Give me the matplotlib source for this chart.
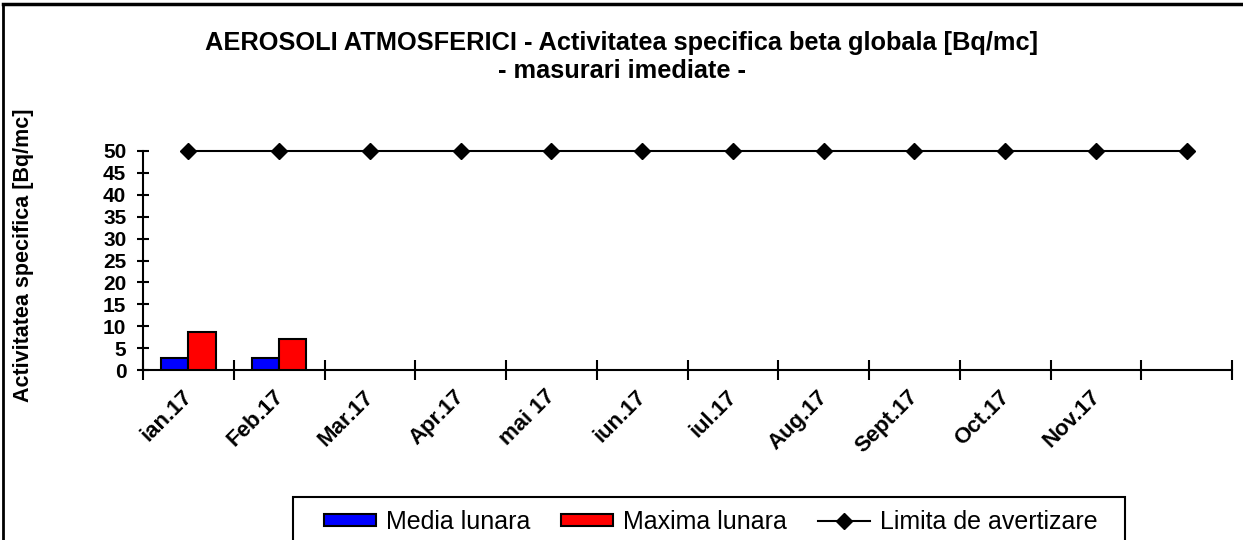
import matplotlib
matplotlib.use("Agg")
import matplotlib.pyplot as plt
from matplotlib.patches import Patch, Rectangle
from matplotlib.lines import Line2D
import matplotlib.transforms as mtransforms
import numpy as np

plt.rcParams['font.family'] = ['Liberation Sans', 'DejaVu Sans']

months = ["ian.17", "Feb.17", "Mar.17", "Apr.17", "mai 17", "iun.17",
          "iul.17", "Aug.17", "Sept.17", "Oct.17", "Nov.17", ""]
media_lunara = [2.7, 2.7]
maxima_lunara = [8.7, 7.1]
limita = [50] * 12

W, H = 1243, 540
fig = plt.figure(figsize=(W / 100, H / 100), dpi=100)
ax = fig.add_axes([143 / W, 1 - 370 / H, (1232 - 143) / W, (370 - 151) / H])

x = np.arange(len(months))
bw = 0.3
ax.bar(x[:len(media_lunara)] - bw / 2, media_lunara, bw, color="#0000FF",
       edgecolor="black", linewidth=1.5, zorder=3)
ax.bar(x[:len(maxima_lunara)] + bw / 2, maxima_lunara, bw, color="#FF0000",
       edgecolor="black", linewidth=1.5, zorder=3)
ax.plot(x, limita, color="black", linewidth=1.5, marker="D", markersize=7.7,
        clip_on=False, zorder=4)

ax.set_xlim(-0.5, len(months) - 0.5)
ax.set_ylim(0, 50)
ax.set_yticks(np.arange(0, 51, 5))
for s in ["top", "right"]:
    ax.spines[s].set_visible(False)
for s in ["left", "bottom"]:
    ax.spines[s].set_linewidth(1.5)

ax.tick_params(axis="y", direction="inout", length=8, width=1.5, pad=8,
               labelsize=15)
for lab in ax.get_yticklabels():
    lab.set_fontweight("bold")

ax.set_xticks(x)
ax.set_xticklabels(months, rotation=45, ha="right", va="center",
                   rotation_mode="anchor", fontsize=16, fontweight="bold")
ax.tick_params(axis="x", which="major", length=0, pad=17)
ax.set_xticks(np.arange(-0.5, len(months)), minor=True)
ax.tick_params(axis="x", which="minor", direction="inout", length=14, width=1.5)
off = mtransforms.ScaledTranslation(1 / 100, 0, fig.dpi_scale_trans)
for lab in ax.get_xticklabels():
    lab.set_transform(lab.get_transform() + off)

fig.text(24 / W, 1 - 255 / H, "Activitatea specifica [Bq/mc]", rotation=90,
         ha="center", va="center", fontsize=15.5, fontweight="bold")

fig.text(0.5, 1 - 43 / H,
         "AEROSOLI ATMOSFERICI - Activitatea specifica beta globala [Bq/mc]",
         ha="center", va="center", fontsize=18.3, fontweight="bold")
fig.text(0.5, 1 - 71 / H, "- masurari imediate -",
         ha="center", va="center", fontsize=18.3, fontweight="bold")

handles = [
    Patch(facecolor="#0000FF", edgecolor="black", linewidth=1.5),
    Patch(facecolor="#FF0000", edgecolor="black", linewidth=1.5),
    Line2D([], [], color="black", linewidth=1.5, marker="D", markersize=7.7),
]
labels = ["Media lunara", "Maxima lunara", "Limita de avertizare"]
leg = fig.legend(handles, labels, ncol=3, loc="center left",
                 bbox_to_anchor=(324 / W, 1 - 522 / H),
                 fontsize=18, frameon=False, borderpad=0, borderaxespad=0,
                 handlelength=2.08, handleheight=0.4, handletextpad=0.4,
                 columnspacing=1.24)

fig.add_artist(Rectangle((293 / W, -0.05), (1125 - 293) / W, 0.05 + (540 - 497) / H,
                         transform=fig.transFigure, facecolor="none",
                         edgecolor="black", linewidth=1.5, clip_on=False))

fig.add_artist(Line2D([3 / W, 3 / W], [0, 1 - 4 / H], transform=fig.transFigure,
                      color="black", linewidth=2))
fig.add_artist(Line2D([3 / W, 1], [1 - 4 / H, 1 - 4 / H], transform=fig.transFigure,
                      color="black", linewidth=2.5))

fig.savefig("out.png", dpi=100)
